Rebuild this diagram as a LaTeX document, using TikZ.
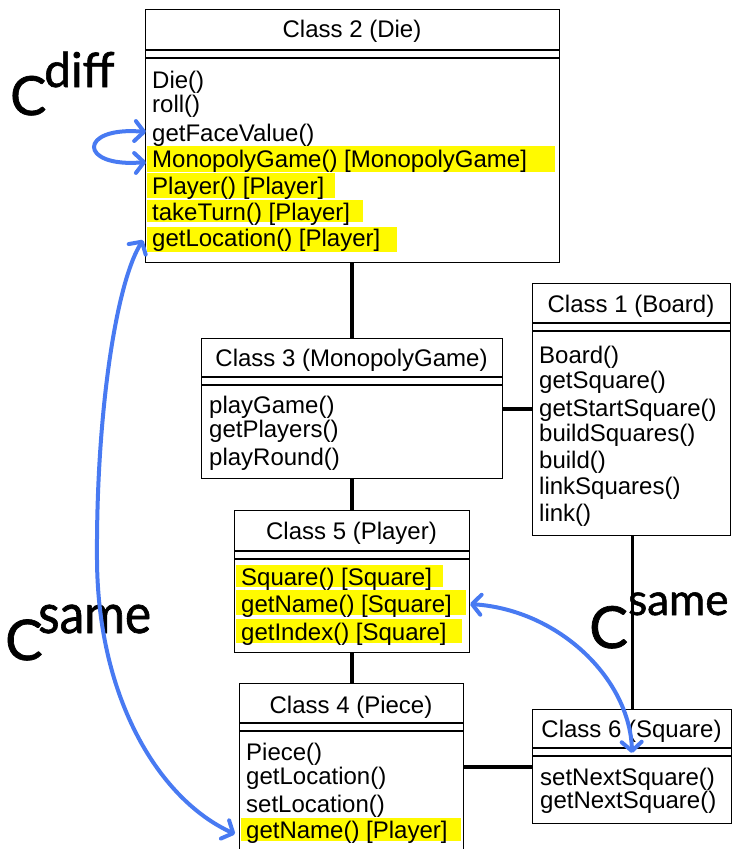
\documentclass[tikz,border=0pt]{standalone}
\usepackage{fontspec}
\usepackage{graphicx}
\setmainfont{Liberation Sans}
\newfontfamily\labelfont{Lato}[FakeBold=1.2]
\usetikzlibrary{arrows.meta}
\definecolor{hilite}{RGB}{255,250,0}
\definecolor{linkblue}{RGB}{72,122,242}

% one UML class: name, x1, y1, x2, y2, first compartment line y, title, title baseline
\newcommand\umlclass[8]{%
  \node[classbox, minimum width={(#4-#2)*1pt}, minimum height={(#5-#3)*1pt}] (#1) at (#2,#3) {};
  \draw[boxline] (#2,#6) -- (#4,#6);
  \draw[boxline] (#2,{#6+8}) -- (#4,{#6+8});
  \node[titletext] (#1-title) at ({(#2+#4)/2},#8) {#7};
}

\begin{document}
\begin{tikzpicture}[x=1pt,y=-1pt,
  classbox/.style={draw, line width=1.3pt, anchor=north west, inner sep=0pt, fill=white},
  boxline/.style={line width=1.3pt},
  titletext/.style={anchor=base, inner sep=0pt, font=\fontsize{24}{27}\selectfont},
  op/.style={anchor=base west, inner sep=0pt, font=\fontsize{24}{27}\selectfont},
  hl/.style={fill=hilite, draw=none},
  assoc/.style={line width=3.8pt},
  thinassoc/.style={line width=2.8pt},
  couplingarrow/.style={linkblue, line width=4pt, line cap=round,
    {Straight Barb[length=9pt, width=20pt, line width=4pt, round]}-{Straight Barb[length=9pt, width=20pt, line width=4pt, round]}},
  lbl/.style={anchor=base west, inner sep=0pt}
]
\useasboundingbox (0,0) rectangle (733,849);

% ---------- Class 2 (Die) ----------
\umlclass{c2}{145}{9}{559}{262}{50}{Class 2 (Die)}{37}
\fill[hl] (147,146) rectangle (555,172);
\fill[hl] (147,173) rectangle (335,198);
\fill[hl] (147,200) rectangle (363,222);
\fill[hl] (147,227) rectangle (397,252);
\node[op] (c2a) at (152,88)  {Die()};
\node[op] (c2b) at (152,112) {roll()};
\node[op] (c2c) at (152,141) {getFaceValue()};
\node[op] (c2d) at (152,167) {MonopolyGame() [MonopolyGame]};
\node[op] (c2e) at (152,194) {Player() [Player]};
\node[op] (c2f) at (152,220) {takeTurn() [Player]};
\node[op] (c2g) at (152,246) {getLocation() [Player]};

% ---------- Class 1 (Board) ----------
\umlclass{c1}{532}{283}{730}{535}{323}{Class 1 (Board)}{312}
\node[op] (c1a) at (539,363) {Board()};
\node[op] (c1b) at (539,388) {getSquare()};
\node[op] (c1c) at (539,416) {getStartSquare()};
\node[op] (c1d) at (539,441) {buildSquares()};
\node[op] (c1e) at (539,468) {build()};
\node[op] (c1f) at (539,494) {linkSquares()};
\node[op] (c1g) at (539,521) {link()};

% ---------- Class 3 (MonopolyGame) ----------
\umlclass{c3}{201}{338}{502}{478}{377}{Class 3 (MonopolyGame)}{366}
\node[op] (c3a) at (209,413) {playGame()};
\node[op] (c3b) at (209,437) {getPlayers()};
\node[op] (c3c) at (209,465) {playRound()};

% ---------- Class 5 (Player) ----------
\umlclass{c5}{234}{510}{469}{652}{551}{Class 5 (Player)}{539}
\fill[hl] (236,565) rectangle (443,587);
\fill[hl] (236,590) rectangle (466,615);
\fill[hl] (236,619) rectangle (462,643);
\node[op] (c5a) at (241,585) {Square() [Square]};
\node[op] (c5b) at (241,612) {getName() [Square]};
\node[op] (c5c) at (241,640) {getIndex() [Square]};

% ---------- Class 4 (Piece) ----------
\umlclass{c4}{239}{683}{463}{860}{723}{Class 4 (Piece)}{713}
\fill[hl] (241,818) rectangle (461,841);
\node[op] (c4a) at (246,760) {Piece()};
\node[op] (c4b) at (246,784) {getLocation()};
\node[op] (c4c) at (246,812) {setLocation()};
\node[op] (c4d) at (246,838) {getName() [Player]};

% ---------- Class 6 (Square) ----------
\umlclass{c6}{532}{709}{731}{823}{748}{Class 6 (Square)}{737}
\node[op] (c6a) at (540,785) {setNextSquare()};
\node[op] (c6b) at (540,808) {getNextSquare()};

% ---------- associations ----------
\draw[assoc] (c3.north) -- (c3.north |- c2.south);
\draw[assoc] (c3.east) -- (c3.east -| c1.west);
\draw[assoc] (c5.north) -- (c5.north |- c3.south);
\draw[assoc] (c4.north) -- (c4.north |- c5.south);
\draw[thinassoc] (c6.north) -- (c6.north |- c1.south);
\draw[assoc] (c6.west) -- (c6.west -| c4.east);

% ---------- coupling labels ----------
\node[lbl, font=\labelfont\fontsize{54}{54}\selectfont] (dC) at (10,115) {C};
\node[lbl, font=\labelfont\fontsize{48}{48}\selectfont] (dsup) at (44,87) {diff};
\node[lbl, font=\labelfont\fontsize{56}{56}\selectfont] (sLC) at (5,660) {C};
\node[lbl, font=\labelfont\fontsize{55}{55}\selectfont] (sLsup) at (38,633) {\scalebox{0.9}[1]{same}};
\node[lbl, font=\labelfont\fontsize{58}{58}\selectfont] (sRC) at (589,648) {C};
\node[lbl, font=\labelfont\fontsize{44}{44}\selectfont] (sRsup) at (628,615) {same};

% ---------- coupling arrows ----------
\coordinate (faceTip) at (146,132);
\coordinate (monoTip) at (146,162);
\draw[couplingarrow] (faceTip) .. controls (78,126) and (78,168) .. (monoTip);

\coordinate (locTip) at (143,240);
\coordinate (leftMid) at (97,560);
\coordinate (nameTip) at (235,834);
\draw[couplingarrow] (locTip) .. controls (115,285) and (96,420) .. (leftMid)
  .. controls (98,700) and (160,800) .. (nameTip);

\coordinate (sqTip) at (470,604);
\coordinate (nextTip) at (632,753);
\draw[couplingarrow] (sqTip) .. controls (560,610) and (630,680) .. (nextTip);
\end{tikzpicture}
\end{document}
